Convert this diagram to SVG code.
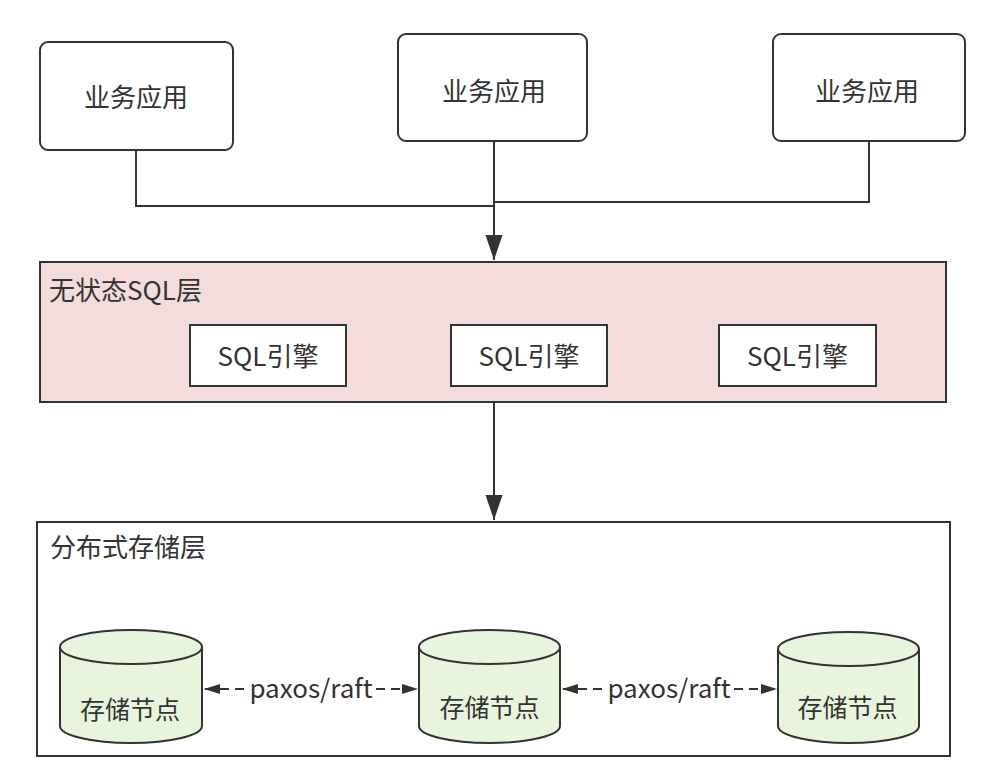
<svg xmlns="http://www.w3.org/2000/svg" width="982" height="784" viewBox="0 0 982 784">
<defs>
<style>
.t{font-family:"Noto Sans CJK SC","Noto Sans",sans-serif;font-size:26px;fill:#333;}
.n{font-size:25px;}
.c{text-anchor:middle;}
.box{fill:#fff;stroke:#333;stroke-width:2;}
.ln{fill:none;stroke:#333;stroke-width:2;}
.cyl{fill:#e8f4dc;stroke:#333;stroke-width:2;}
</style>
<marker id="big" viewBox="0 0 25 18" refX="25" refY="9" markerWidth="25" markerHeight="18" orient="auto" markerUnits="userSpaceOnUse">
<path d="M0,0.5 L25,9 L0,17.5 Z" fill="#333"/>
</marker>
<marker id="sm" viewBox="0 0 16 12" refX="16" refY="6" markerWidth="16" markerHeight="12" orient="auto" markerUnits="userSpaceOnUse">
<path d="M0,1 L16,6 L0,11 Z" fill="#333"/>
</marker>
</defs>
<rect width="982" height="784" fill="#fff"/>

<g id="app1"><rect class="box" x="40" y="42" width="193" height="108" rx="8"/><text class="t c" x="136" y="107">业务应用</text></g>
<g id="app2"><rect class="box" x="398" y="34" width="189" height="107" rx="8"/><text class="t c" x="494" y="101">业务应用</text></g>
<g id="app3"><rect class="box" x="773" y="34" width="192" height="107" rx="8"/><text class="t c" x="867" y="101">业务应用</text></g>

<g id="sql-layer"><rect x="40" y="262" width="906" height="140" fill="#f5dcdc" stroke="#333" stroke-width="2"/><text class="t" x="49" y="300">无状态SQL层</text></g>
<g id="sql1"><rect class="box" x="190" y="325" width="156" height="61"/><text class="t c" x="268" y="366">SQL引擎</text></g>
<g id="sql2"><rect class="box" x="451" y="325" width="156" height="61"/><text class="t c" x="529" y="366">SQL引擎</text></g>
<g id="sql3"><rect class="box" x="719" y="325" width="157" height="61"/><text class="t c" x="797.5" y="366">SQL引擎</text></g>

<g id="storage-layer"><rect x="37" y="522" width="913" height="234" fill="#fff" stroke="#333" stroke-width="2"/><text class="t" x="50" y="557">分布式存储层</text></g>

<g id="node1"><path class="cyl" d="M60,647 A71,17 0 0 1 202,647 L202,726 A71,17 0 0 1 60,726 Z"/><path class="ln" d="M60,647 A71,17 0 0 0 202,647"/><text class="t n c" x="130" y="719">存储节点</text></g>
<g id="node2"><path class="cyl" d="M419,647 A70.5,17 0 0 1 560,647 L560,726 A70.5,17 0 0 1 419,726 Z"/><path class="ln" d="M419,647 A70.5,17 0 0 0 560,647"/><text class="t n c" x="489.5" y="717">存储节点</text></g>
<g id="node3"><path class="cyl" d="M778,649 A70.5,17 0 0 1 919,649 L919,726 A70.5,17 0 0 1 778,726 Z"/><path class="ln" d="M778,649 A70.5,17 0 0 0 919,649"/><text class="t n c" x="847.5" y="717">存储节点</text></g>

<g id="connectors">
<path class="ln" d="M136,150 V206 H494"/>
<path class="ln" d="M869,141 V202 H494"/>
<path class="ln" d="M494,141 V260" marker-end="url(#big)"/>
<path class="ln" d="M494,402 V520" marker-end="url(#big)"/>
<path class="ln" d="M244,689 H204" stroke-dasharray="9,6" marker-end="url(#sm)"/>
<path class="ln" d="M376,689 H418" stroke-dasharray="9,6" marker-end="url(#sm)"/>
<text class="t c" x="311" y="698">paxos/raft</text>
<path class="ln" d="M602,689 H562" stroke-dasharray="9,6" marker-end="url(#sm)"/>
<path class="ln" d="M734,689 H777" stroke-dasharray="9,6" marker-end="url(#sm)"/>
<text class="t c" x="669" y="698">paxos/raft</text>
</g>
</svg>
